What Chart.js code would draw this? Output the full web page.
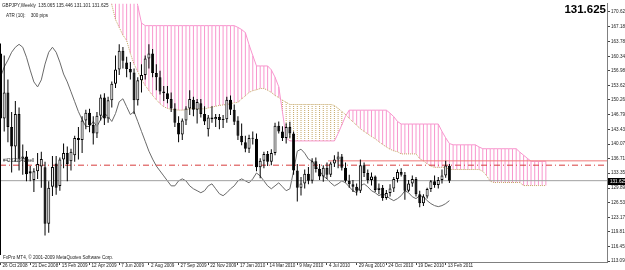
<!DOCTYPE html>
<html>
<head>
<meta charset="utf-8">
<script src="https://cdn.jsdelivr.net/npm/chart.js@4.4.1/dist/chart.umd.min.js"></script>
<style>
  html, body { margin: 0; padding: 0; background: #fff; }
  canvas { display: block; }
</style>
</head>
<body>
<canvas id="chart" width="625" height="270"></canvas>
<script>
// GBPJPY weekly, one value per bar (bar 0 = week of 26 Oct 2008)
const opens = [161.0,146.0,152.0,144.0,139.5,147.0,136.7,137.2,133.8,131.8,
  133.8,134.9,134.7,121.7,130.2,135.6,130.4,136.5,138.0,136.1,
  137.5,141.5,141.0,145.5,147.3,144.5,142.5,146.6,150.8,146.0,
  150.2,154.0,157.3,161.6,158.9,157.4,156.6,150.2,154.8,156.0,
  159.8,161.0,156.5,155.5,152.2,151.8,150.5,148.3,145.0,142.3,
  145.5,148.3,150.3,148.0,149.5,147.0,143.5,146.2,145.8,146.3,
  145.6,145.8,150.3,148.0,145.5,142.0,140.5,139.0,141.5,141.3,
  134.7,136.2,137.8,136.0,138.0,144.3,143.0,141.5,144.0,142.5,
  134.0,130.0,131.0,133.2,131.6,136.1,134.3,132.6,134.6,133.0,
  135.6,136.5,137.2,134.6,131.6,130.8,130.2,129.3,135.2,133.4,
  131.8,132.6,129.5,130.0,127.6,128.8,129.8,132.0,133.6,133.0,
  129.3,131.0,132.0,128.5,126.4,128.0,129.7,131.5,130.6,131.8,
  132.8,135.065];
const highs = [163.3,160.5,155.0,147.5,150.0,148.5,140.0,138.5,135.0,134.5,
  138.0,138.3,136.0,131.5,137.3,137.3,137.0,140.2,139.5,139.0,
  142.0,144.0,146.5,148.0,148.2,146.5,147.5,151.5,151.8,151.0,
  154.5,160.5,163.1,162.5,160.2,159.0,157.5,155.5,158.5,160.5,
  163.1,162.0,158.5,157.0,153.5,153.5,152.0,149.5,146.5,146.0,
  148.8,152.5,151.0,150.5,150.5,148.8,146.8,148.8,147.0,147.0,
  146.8,151.0,151.3,149.2,146.5,144.8,142.0,142.2,143.0,142.5,
  136.8,138.3,138.5,138.9,145.0,145.3,144.2,144.9,145.2,143.0,
  135.5,132.5,134.2,134.8,136.8,137.0,135.5,135.2,135.8,136.0,
  137.5,138.3,137.8,135.8,133.0,131.8,131.0,136.5,135.8,134.2,
  133.5,132.8,131.0,130.6,129.5,130.8,132.5,134.2,134.5,133.6,
  131.8,132.8,132.5,129.3,128.5,130.0,131.8,132.8,132.5,134.2,
  136.2,135.446];
const lows = [114.5,143.0,140.5,133.5,136.0,134.0,133.0,131.5,131.5,129.0,
  132.0,130.0,119.0,119.6,128.1,128.4,129.3,134.5,131.5,134.0,
  136.0,136.5,138.0,143.5,142.8,140.0,141.5,145.5,144.5,145.0,
  148.5,153.0,156.0,157.5,155.5,155.0,147.0,149.0,152.0,155.0,
  157.5,155.5,152.5,151.5,150.0,149.5,147.5,144.0,140.5,141.0,
  144.5,146.8,146.5,144.8,146.2,144.5,141.8,145.0,144.0,143.5,
  143.8,145.0,146.8,144.5,141.0,139.8,138.2,138.0,140.0,133.8,
  132.2,134.5,135.0,135.2,137.5,142.5,140.8,140.2,141.5,133.0,
  126.8,128.2,129.8,130.8,131.0,133.5,131.8,131.4,132.0,132.5,
  134.8,134.5,134.0,131.2,130.0,129.0,128.2,128.8,132.5,131.0,
  130.5,129.0,128.5,127.0,127.2,128.0,129.0,131.2,132.6,127.2,
  129.0,130.2,128.0,125.5,125.8,127.5,129.0,130.0,129.8,131.0,
  132.3,131.101];
const closes = [146.0,152.0,144.0,139.5,147.0,136.7,137.2,133.1,133.3,133.8,
  135.5,136.6,121.7,130.0,134.8,130.0,136.5,138.0,135.5,138.3,
  141.5,141.0,145.5,147.3,144.5,142.5,146.6,150.8,146.0,150.2,
  154.0,157.3,161.6,159.3,157.4,156.6,150.2,154.8,156.0,159.8,
  161.0,156.5,155.5,152.2,151.8,150.5,148.3,145.0,142.3,145.5,
  148.3,150.5,148.0,149.8,147.0,145.3,146.2,145.8,146.3,145.6,
  145.8,150.3,148.0,145.2,142.0,140.5,139.0,141.5,141.3,134.7,
  136.2,137.8,136.0,138.0,144.3,143.0,141.5,144.0,142.5,134.0,
  130.0,131.0,133.2,131.6,136.1,134.3,132.6,134.6,133.0,135.6,
  136.5,137.2,134.6,131.6,130.8,130.2,129.3,135.2,133.4,131.8,
  132.6,129.5,130.0,127.6,128.8,129.8,132.0,133.6,133.0,129.3,
  131.0,132.0,128.5,126.4,128.0,129.7,131.5,130.6,131.8,132.8,
  135.1,131.625];

// ATR(10) line, pips
const atrPips = [1645,1753,1828,1914,1968,2000,1968,1860,1720,1591,
  1537,1613,1785,1914,1968,1914,1806,1677,1591,1484,
  1376,1268,1182,1107,1107,1161,1107,1182,1247,1215,
  1161,1247,1376,1408,1322,1236,1268,1161,1053,946,
  838,752,677,623,569,515,461,461,515,537,
  515,461,429,408,386,408,461,483,429,375,
  354,386,429,461,515,537,515,494,537,601,
  569,515,461,429,461,494,451,408,429,623,
  838,860,816,752,730,677,623,569,537,494,
  461,483,515,494,451,408,386,461,483,451,
  408,386,354,375,354,322,300,322,354,408,
  386,343,322,354,343,300,268,246,235,246,
  268,300];

// Ichimoku senkou spans (26 bars ahead of price); 176 = above the visible range
const spanA = [176,176,176,176,176,176,176,176,176,176,
  176,176,176,176,176,176,176,176,176,176,
  176,176,176,176,176,176,176,176,176,176,
  172.2,168.8,167.0,165.2,164.0,161.0,158.5,156.8,155.0,153.6,
  152.4,151.3,150.3,149.4,148.7,148.3,148.1,148.0,147.9,147.9,
  148.0,148.2,148.3,148.3,148.2,148.2,148.4,148.6,148.8,149.0,
  149.1,149.2,149.4,149.6,149.7,150.5,151.2,152.0,152.4,152.6,
  152.9,152.9,152.5,152.0,151.3,150.8,150.2,149.7,149.2,149.2,
  149.2,149.2,149.2,149.2,149.2,149.2,149.2,149.2,149.2,149.2,
  149.0,148.3,147.6,146.9,146.0,145.2,144.4,143.6,143.0,142.4,
  141.8,141.3,140.6,140.0,139.4,138.9,138.5,138.3,137.8,137.8,
  137.8,137.8,137.8,136.7,136.2,135.5,135.0,134.7,134.7,134.7,
  134.7,134.2,134.2,134.2,134.2,134.2,134.2,134.2,134.2,134.2,
  133.8,132.8,131.5,131.2,131.2,131.2,131.2,131.2,131.2,131.2,
  131.2,130.5,130.5,130.5,130.5,130.5,130.5,130.5];
const spanB = [176,176,176,176,176,176,176,176,176,176,
  176,176,176,176,176,176,176,176,176,176,
  176,176,176,176,176,176,176,176,176,176,
  176,176,176,176,176,176,176,172.0,168.0,167.4,
  167.4,167.4,167.4,167.4,167.4,167.4,167.4,167.4,167.4,167.4,
  167.4,167.4,167.4,167.4,167.4,167.4,167.4,167.4,167.4,167.4,
  167.4,167.4,167.4,167.4,167.0,166.5,165.8,163.0,160.5,158.1,
  158.1,158.1,158.1,157.2,155.5,153.3,147.5,141.5,140.8,140.8,
  140.8,140.8,140.8,140.8,140.8,140.8,140.8,140.8,140.8,140.8,
  140.8,142.5,144.5,146.5,147.9,147.9,147.9,147.9,147.9,147.9,
  147.9,147.9,147.9,147.9,147.9,147.2,146.4,145.3,144.7,144.7,
  144.7,144.7,144.7,144.7,144.7,144.7,144.7,144.7,144.7,143.0,
  141.5,140.2,139.9,139.9,139.9,139.9,139.9,139.9,139.9,139.4,
  139.0,139.0,139.0,139.0,139.0,139.0,139.0,139.0,139.0,139.0,
  138.2,137.5,136.8,136.1,136.1,136.1,136.1,136.1];

// axis labels
const tickBars = [0,8,16,24,32,40,48,56,64,72,80,88,96,104,112,120];
const tickLabels = ['26 Oct 2008','21 Dec 2008','15 Feb 2009','12 Apr 2009','7 Jun 2009',
  '2 Aug 2009','27 Sep 2009','22 Nov 2009','17 Jan 2010','14 Mar 2010','9 May 2010',
  '4 Jul 2010','29 Aug 2010','24 Oct 2010','19 Dec 2010','13 Feb 2011'];
const priceTicks = [170.620,167.180,163.780,160.340,156.980,153.620,150.260,146.790,
  143.430,140.070,136.710,133.355,129.890,126.530,123.170,119.810,116.450,113.090];

// horizontal levels
const lastPrice = 131.625;
const orderPrice = 135.20;
const levelPrice = 136.20;
const levelFromBar = 88.3;

const X_MIN = -0.135, X_MAX = 163.48;
const FONT = 'Liberation Sans';
const pink = 'rgb(248,150,206)';
const tan = 'rgb(196,166,100)';

// dotted fill for the rising cloud
const pc = document.createElement('canvas');
pc.width = 1; pc.height = 2;
const pctx = pc.getContext('2d');
pctx.fillStyle = tan;
pctx.fillRect(0, 0, 1, 1);
const tanDots = pctx.createPattern(pc, 'repeat');

const cloudDown = [], cloudUp = [];
spanA.forEach((a, i) => {
  const b = spanB[i];
  if (b >= a) cloudDown.push({x: i, y: [a, b]});
  else cloudUp.push({x: i, y: [b, a]});
});

const wicks = highs.map((h, i) => ({x: i, y: [lows[i], h]}));
const bodies = opens.map((o, i) => ({x: i, y: [o, closes[i]]}));
const isBull = i => closes[i] >= opens[i];

const overlay = {
  id: 'overlay',
  afterDraw(chart) {
    const {ctx, chartArea, scales} = chart;
    ctx.save();
    ctx.fillStyle = '#222';
    ctx.font = '4.6px "' + FONT + '"';
    ctx.textBaseline = 'alphabetic';
    ctx.fillText('GBPJPY,Weekly  135.065 135.446 131.101 131.625', 2, 7);
    ctx.fillText('ATR (10):    300 pips', 6, 17);
    ctx.fillText('FxPro MT4, \u00a9 2001-2009 MetaQuotes Software Corp.', 3, 259);
    ctx.fillText('#42621341 sell', 3, 162);

    ctx.fillStyle = '#000';
    ctx.font = 'bold 11.5px "' + FONT + '"';
    ctx.textAlign = 'right';
    ctx.fillText(lastPrice.toFixed(3), 606, 13);

    const y = Math.round(scales.y.getPixelForValue(lastPrice));
    ctx.fillRect(chartArea.right + 1, y - 3, 20, 7);
    ctx.fillStyle = '#fff';
    ctx.font = '4.6px "' + FONT + '"';
    ctx.textAlign = 'left';
    ctx.textBaseline = 'middle';
    ctx.fillText(lastPrice.toFixed(3), chartArea.right + 3, y + 0.5);
    ctx.restore();
  }
};

const flat = v => [{x: X_MIN, y: v}, {x: X_MAX, y: v}];

new Chart(document.getElementById('chart'), {
  type: 'bar',
  data: {
    datasets: [
      {data: cloudDown, backgroundColor: pink, barThickness: 1, grouped: false, inflateAmount: 0, order: 10},
      {data: cloudUp, backgroundColor: tanDots, barThickness: 1, grouped: false, inflateAmount: 0, order: 10},
      {type: 'line', data: spanB.map((v, i) => ({x: i, y: v})), borderColor: pink, borderWidth: 1, pointRadius: 0, order: 9},
      {type: 'line', data: spanA.map((v, i) => ({x: i, y: v})), borderColor: tan, borderWidth: 1, borderDash: [1, 1], pointRadius: 0, order: 9},
      {type: 'line', data: atrPips.map((v, i) => ({x: i, y: v})), yAxisID: 'yAtr', borderColor: '#6a6a6a', borderWidth: 1, pointRadius: 0, order: 8},
      {type: 'line', data: flat(lastPrice), borderColor: '#a0a0a0', borderWidth: 1, pointRadius: 0, order: 7},
      {type: 'line', data: flat(orderPrice), borderColor: '#d83c3c', borderWidth: 1, borderDash: [6, 3, 1, 3], pointRadius: 0, order: 7},
      {type: 'line', data: [{x: levelFromBar, y: levelPrice}, {x: X_MAX, y: levelPrice}], borderColor: '#f07878', borderWidth: 1, pointRadius: 0, order: 7},
      {data: wicks, backgroundColor: '#000', barThickness: 1, grouped: false, inflateAmount: 0, order: 2},
      {data: bodies,
        backgroundColor: c => isBull(c.dataIndex) ? '#fff' : '#000',
        borderColor: '#000', borderWidth: 1, borderSkipped: false,
        barThickness: 3, minBarLength: 1, grouped: false, inflateAmount: 0, order: 1}
    ]
  },
  options: {
    responsive: false,
    devicePixelRatio: 1,
    animation: false,
    events: [],
    layout: {padding: {top: 1, left: 0, right: 0, bottom: 0}, autoPadding: false},
    plugins: {legend: {display: false}, tooltip: {enabled: false}},
    scales: {
      x: {
        type: 'linear', min: X_MIN, max: X_MAX, offset: false,
        grid: {display: true, drawOnChartArea: false, drawTicks: true, tickLength: 3, color: '#444', offset: false},
        border: {display: true, color: '#808080'},
        ticks: {
          autoSkip: false, maxRotation: 0, minRotation: 0, align: 'start', labelOffset: 2, padding: -2,
          color: '#222', font: {family: FONT, size: 4.6},
          callback: v => tickLabels[tickBars.indexOf(v)]
        },
        afterBuildTicks: s => { s.ticks = tickBars.map(v => ({value: v})); },
        afterFit: s => { s.height = 8; }
      },
      y: {
        type: 'linear', position: 'right', min: 112.86, max: 172.45,
        grid: {display: true, drawOnChartArea: false, drawTicks: true, tickLength: 3, color: '#444'},
        border: {display: true, color: '#808080'},
        ticks: {padding: 1, crossAlign: 'near', color: '#222', font: {family: FONT, size: 4.6},
          callback: v => Number(v).toFixed(3)},
        afterBuildTicks: s => { s.ticks = priceTicks.map(v => ({value: v})); },
        afterFit: s => { s.width = 18; }
      },
      yAtr: {type: 'linear', display: false, min: -367, max: 2441}
    }
  },
  plugins: [overlay]
});
</script>
</body>
</html>
